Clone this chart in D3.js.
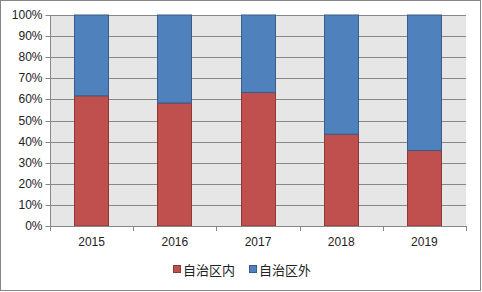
<!DOCTYPE html>
<html>
<head>
<meta charset="utf-8">
<script src="https://cdn.jsdelivr.net/npm/d3@7"></script>
<style>
  body { margin: 0; background: #fff; }
  svg { display: block; }
</style>
</head>
<body>
<main></main>
<script>
const WIDTH = 482;
const HEIGHT = 292;

const years = ["2015", "2016", "2017", "2018", "2019"];
const inside = [0.617, 0.583, 0.633, 0.435, 0.358];   // 自治区内
const outside = inside.map(v => 1 - v);               // 自治区外 (fills to 100%)
const seriesNames = ["自治区内", "自治区外"];
const seriesColors = ["#C0504D", "#4F81BD"];
const seriesStroke = ["#8C3836", "#385D8A"];
const yTicks = [0, 0.1, 0.2, 0.3, 0.4, 0.5, 0.6, 0.7, 0.8, 0.9, 1];

const plot = { left: 50, right: 466, top: 15, bottom: 226 };

const svg = d3.select("main").append("svg")
    .attr("width", WIDTH)
    .attr("height", HEIGHT);

// outer frame
svg.append("rect")
    .attr("x", 0.5).attr("y", 0.5)
    .attr("width", WIDTH - 2).attr("height", HEIGHT - 2)
    .attr("fill", "#fff")
    .attr("stroke", "#868686");

var x = d3.scaleBand()
    .domain(years)
    .range([plot.left, plot.right])
    .paddingInner(0.58)
    .paddingOuter(0.29);

var y = d3.scaleLinear()
    .domain([0, 1])
    .range([plot.bottom, plot.top]);

// plot background
svg.append("rect")
    .attr("x", plot.left).attr("y", plot.top)
    .attr("width", plot.right - plot.left)
    .attr("height", plot.bottom - plot.top)
    .attr("fill", "#e6e6e6");

// gridlines
svg.append("g").selectAll("line")
    .data(yTicks.slice(1))
    .join("line")
    .attr("x1", plot.left).attr("x2", plot.right)
    .attr("y1", d => Math.round(y(d)) + 0.5)
    .attr("y2", d => Math.round(y(d)) + 0.5)
    .attr("stroke", "#878787");

// stacked bars
var stacked = years.map((yr, i) => ({ year: yr, parts: [inside[i], outside[i]] }));
var stack = d3.stack().keys([0, 1]).value((d, k) => d.parts[k]);
var layers = stack(stacked);

layers.forEach(function (layer, k) {
    svg.append("g").selectAll("rect")
        .data(layer)
        .join("rect")
        .attr("x", d => Math.round(x(d.data.year)) + 0.5)
        .attr("width", Math.round(x.bandwidth()) - 1)
        .attr("y", d => y(d[1]))
        .attr("height", d => y(d[0]) - y(d[1]))
        .attr("fill", seriesColors[k])
        .attr("stroke", seriesStroke[k])
        .attr("stroke-width", 1);
});

// y axis
var yAxis = d3.axisLeft(y)
    .tickValues(yTicks)
    .tickFormat(d3.format(".0%"))
    .tickSize(5)
    .tickPadding(3);

var gy = svg.append("g")
    .attr("transform", "translate(" + (plot.left + 0.5) + ",0)")
    .call(yAxis);
gy.select(".domain").attr("stroke", "#878787").attr("d", "M0," + plot.top + "V" + plot.bottom);
gy.selectAll(".tick line").attr("stroke", "#878787");
gy.selectAll(".tick").attr("transform", d => "translate(0," + (Math.round(y(d)) + 0.5) + ")");
gy.selectAll("text")
    .attr("fill", "#222")
    .style("font-family", "'Liberation Sans', Arial, sans-serif")
    .style("font-size", "12px");

// x axis
var xAxis = d3.axisBottom(x).tickSize(0).tickPadding(11);
var gx = svg.append("g")
    .attr("transform", "translate(0," + (plot.bottom + 0.5) + ")")
    .call(xAxis);
gx.select(".domain").attr("stroke", "#878787").attr("d", "M" + plot.left + ",0H" + plot.right);
gx.selectAll("text")
    .attr("fill", "#222")
    .style("font-family", "'Liberation Sans', Arial, sans-serif")
    .style("font-size", "12px");

// category boundary ticks
svg.append("g").selectAll("line")
    .data(d3.range(years.length + 1))
    .join("line")
    .attr("x1", i => Math.round(plot.left + i * (plot.right - plot.left) / years.length) + 0.5)
    .attr("x2", i => Math.round(plot.left + i * (plot.right - plot.left) / years.length) + 0.5)
    .attr("y1", plot.bottom)
    .attr("y2", plot.bottom + 5)
    .attr("stroke", "#878787");

// legend
var legendX = [173, 249];
var legend = svg.append("g").selectAll("g")
    .data(seriesNames)
    .join("g")
    .attr("transform", (d, i) => "translate(" + legendX[i] + ",270)");

legend.append("rect")
    .attr("x", 0.5).attr("y", -4.5)
    .attr("width", 7).attr("height", 7)
    .attr("fill", (d, i) => seriesColors[i])
    .attr("stroke", (d, i) => seriesStroke[i]);

legend.append("text")
    .attr("x", 10).attr("y", 0)
    .attr("dy", "0.36em")
    .attr("fill", "#222")
    .style("font-family", "'Noto Sans CJK SC', sans-serif")
    .style("font-size", "13px")
    .text(d => d);
</script>
</body>
</html>
